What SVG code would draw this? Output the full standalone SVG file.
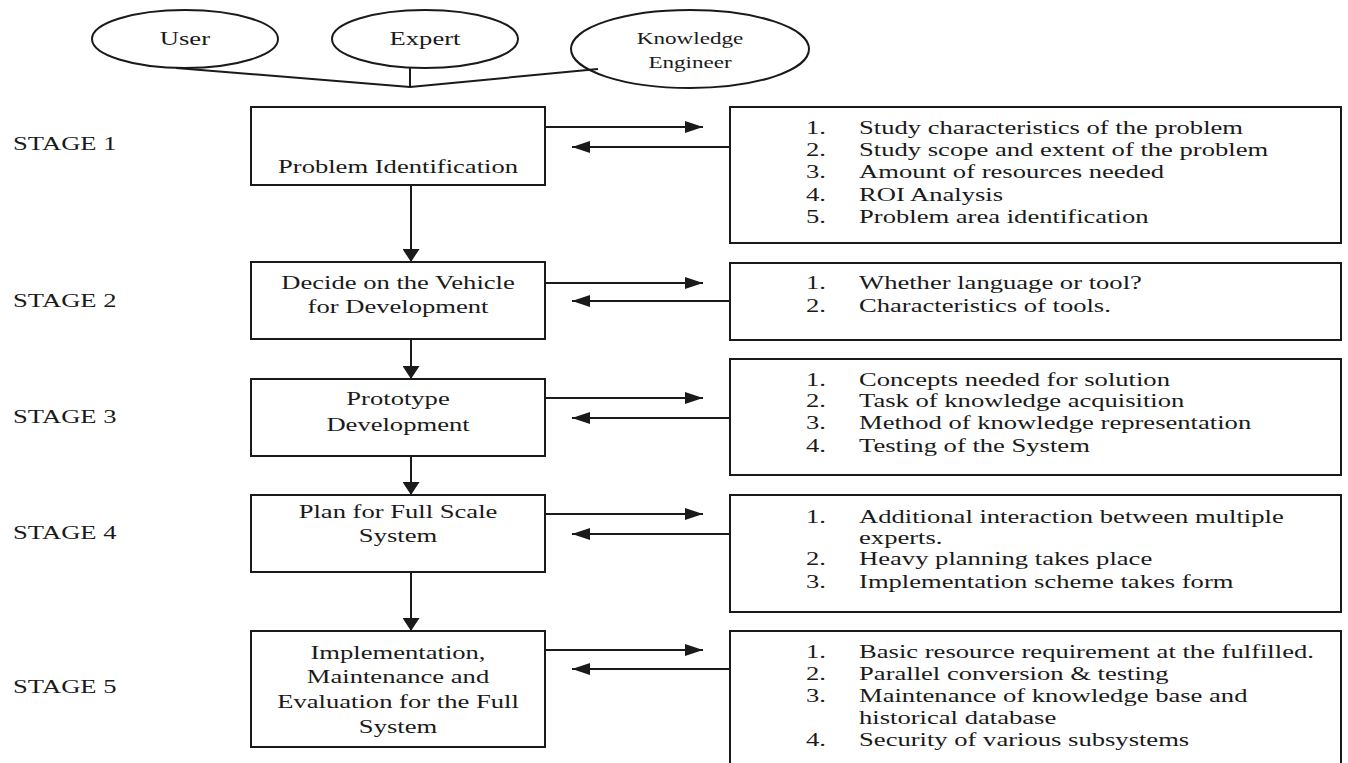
<svg xmlns="http://www.w3.org/2000/svg" width="1348" height="763" viewBox="0 0 1348 763">
  <style>
    .shape { fill: #ffffff; stroke: #1a1a1a; stroke-width: 2; }
    .wire { fill: none; stroke: #1a1a1a; stroke-width: 2; }
    .t { font-family: "Liberation Serif", "Times New Roman", serif; font-size: 19px; fill: #1a1a1a; }
    .c { text-anchor: middle; }
    .ke { font-size: 16.5px; }
  </style>
  <defs>
    <!-- horizontal heads are wider than tall, vertical ones the reverse -->
    <marker id="headH" markerUnits="userSpaceOnUse" markerWidth="18" markerHeight="12" refX="18" refY="6" orient="auto">
      <path d="M0,0 L18,6 L0,12 Z" fill="#1a1a1a"/>
    </marker>
    <marker id="headV" markerUnits="userSpaceOnUse" markerWidth="13" markerHeight="17" refX="13" refY="8.5" orient="auto">
      <path d="M0,0 L13,8.5 L0,17 Z" fill="#1a1a1a"/>
    </marker>
  </defs>
  <rect width="1348" height="763" fill="#ffffff"/>

  <!-- stage labels -->
  <g id="stage-labels" transform="scale(1.4 1)">
    <text class="t" x="9.3" y="150">STAGE 1</text>
    <text class="t" x="9.3" y="307">STAGE 2</text>
    <text class="t" x="9.3" y="423">STAGE 3</text>
    <text class="t" x="9.3" y="539">STAGE 4</text>
    <text class="t" x="9.3" y="693">STAGE 5</text>
  </g>

  <!-- participants -->
  <g id="user">
    <ellipse class="shape" cx="185" cy="39" rx="93" ry="29"/>
    <g transform="scale(1.4 1)"><text class="t c" x="132.1" y="45">User</text></g>
  </g>
  <g id="expert">
    <ellipse class="shape" cx="425" cy="39" rx="93" ry="29"/>
    <g transform="scale(1.4 1)"><text class="t c" x="303.6" y="45">Expert</text></g>
  </g>

  <!-- connectors -->
  <g id="connectors">
    <polyline class="wire" points="176,68 410,87 598,69"/>
    <line class="wire" x1="410" y1="68" x2="410" y2="87"/>

    <line class="wire" x1="411" y1="185" x2="411" y2="262" marker-end="url(#headV)"/>
    <line class="wire" x1="411" y1="339" x2="411" y2="379" marker-end="url(#headV)"/>
    <line class="wire" x1="411" y1="456" x2="411" y2="495" marker-end="url(#headV)"/>
    <line class="wire" x1="411" y1="572" x2="411" y2="631" marker-end="url(#headV)"/>

    <line class="wire" x1="545" y1="127" x2="703" y2="127" marker-end="url(#headH)"/>
    <line class="wire" x1="730" y1="147" x2="572" y2="147" marker-end="url(#headH)"/>
    <line class="wire" x1="545" y1="283" x2="703" y2="283" marker-end="url(#headH)"/>
    <line class="wire" x1="730" y1="301" x2="572" y2="301" marker-end="url(#headH)"/>
    <line class="wire" x1="545" y1="398" x2="703" y2="398" marker-end="url(#headH)"/>
    <line class="wire" x1="730" y1="418" x2="572" y2="418" marker-end="url(#headH)"/>
    <line class="wire" x1="545" y1="514" x2="703" y2="514" marker-end="url(#headH)"/>
    <line class="wire" x1="730" y1="534" x2="572" y2="534" marker-end="url(#headH)"/>
    <line class="wire" x1="545" y1="650" x2="703" y2="650" marker-end="url(#headH)"/>
    <line class="wire" x1="730" y1="669" x2="572" y2="669" marker-end="url(#headH)"/>
  </g>

  <g id="knowledge-engineer">
    <ellipse class="shape" cx="690" cy="49" rx="119" ry="39" style="fill:none"/>
    <g transform="scale(1.4 1)">
      <text class="t ke c" x="492.9" y="44">Knowledge</text>
      <text class="t ke c" x="492.9" y="68">Engineer</text>
    </g>
  </g>

  <!-- stage boxes -->
  <g id="problem-identification">
    <rect class="shape" x="251" y="107" width="294" height="78"/>
    <g transform="scale(1.4 1)"><text class="t c" x="284.3" y="173">Problem Identification</text></g>
  </g>
  <g id="decide-vehicle">
    <rect class="shape" x="251" y="262" width="294" height="77"/>
    <g transform="scale(1.4 1)">
      <text class="t c" x="284.3" y="289">Decide on the Vehicle</text>
      <text class="t c" x="284.3" y="313">for Development</text>
    </g>
  </g>
  <g id="prototype-development">
    <rect class="shape" x="251" y="379" width="294" height="77"/>
    <g transform="scale(1.4 1)">
      <text class="t c" x="284.3" y="405">Prototype</text>
      <text class="t c" x="284.3" y="431">Development</text>
    </g>
  </g>
  <g id="full-scale-plan">
    <rect class="shape" x="251" y="495" width="294" height="77"/>
    <g transform="scale(1.4 1)">
      <text class="t c" x="284.3" y="518">Plan for Full Scale</text>
      <text class="t c" x="284.3" y="542">System</text>
    </g>
  </g>
  <g id="implementation">
    <rect class="shape" x="251" y="631" width="294" height="116"/>
    <g transform="scale(1.4 1)">
      <text class="t c" x="284.3" y="659">Implementation,</text>
      <text class="t c" x="284.3" y="683">Maintenance and</text>
      <text class="t c" x="284.3" y="708">Evaluation for the Full</text>
      <text class="t c" x="284.3" y="733">System</text>
    </g>
  </g>

  <!-- activity lists -->
  <g id="stage1-tasks">
    <rect class="shape" x="730" y="107" width="611" height="136"/>
    <g transform="scale(1.4 1)">
      <text class="t" x="575.7" y="134">1.</text><text class="t" x="613.6" y="134">Study characteristics of the problem</text>
      <text class="t" x="575.7" y="156">2.</text><text class="t" x="613.6" y="156">Study scope and extent of the problem</text>
      <text class="t" x="575.7" y="178">3.</text><text class="t" x="613.6" y="178">Amount of resources needed</text>
      <text class="t" x="575.7" y="201">4.</text><text class="t" x="613.6" y="201">ROI Analysis</text>
      <text class="t" x="575.7" y="223">5.</text><text class="t" x="613.6" y="223">Problem area identification</text>
    </g>
  </g>
  <g id="stage2-tasks">
    <rect class="shape" x="730" y="263" width="611" height="77"/>
    <g transform="scale(1.4 1)">
      <text class="t" x="575.7" y="289">1.</text><text class="t" x="613.6" y="289">Whether language or tool?</text>
      <text class="t" x="575.7" y="312">2.</text><text class="t" x="613.6" y="312">Characteristics of tools.</text>
    </g>
  </g>
  <g id="stage3-tasks">
    <rect class="shape" x="730" y="359" width="611" height="116"/>
    <g transform="scale(1.4 1)">
      <text class="t" x="575.7" y="386">1.</text><text class="t" x="613.6" y="386">Concepts needed for solution</text>
      <text class="t" x="575.7" y="407">2.</text><text class="t" x="613.6" y="407">Task of knowledge acquisition</text>
      <text class="t" x="575.7" y="429">3.</text><text class="t" x="613.6" y="429">Method of knowledge representation</text>
      <text class="t" x="575.7" y="452">4.</text><text class="t" x="613.6" y="452">Testing of the System</text>
    </g>
  </g>
  <g id="stage4-tasks">
    <rect class="shape" x="730" y="495" width="611" height="117"/>
    <g transform="scale(1.4 1)">
      <text class="t" x="575.7" y="523">1.</text><text class="t" x="613.6" y="523">Additional interaction between multiple</text>
      <text class="t" x="613.6" y="544">experts.</text>
      <text class="t" x="575.7" y="565">2.</text><text class="t" x="613.6" y="565">Heavy planning takes place</text>
      <text class="t" x="575.7" y="588">3.</text><text class="t" x="613.6" y="588">Implementation scheme takes form</text>
    </g>
  </g>
  <g id="stage5-tasks">
    <rect class="shape" x="730" y="631" width="611" height="150"/>
    <g transform="scale(1.4 1)">
      <text class="t" x="575.7" y="658">1.</text><text class="t" x="613.6" y="658">Basic resource requirement at the fulfilled.</text>
      <text class="t" x="575.7" y="680">2.</text><text class="t" x="613.6" y="680">Parallel conversion &amp; testing</text>
      <text class="t" x="575.7" y="702">3.</text><text class="t" x="613.6" y="702">Maintenance of knowledge base and</text>
      <text class="t" x="613.6" y="724">historical database</text>
      <text class="t" x="575.7" y="746">4.</text><text class="t" x="613.6" y="746">Security of various subsystems</text>
    </g>
  </g>
</svg>
